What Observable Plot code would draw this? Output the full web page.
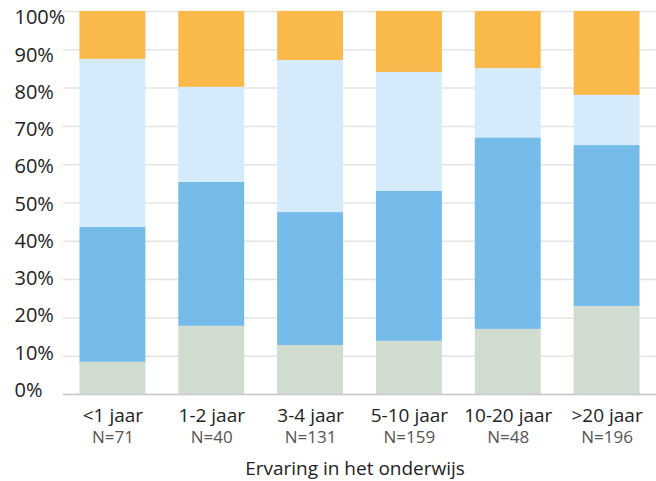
<!DOCTYPE html>
<html>
<head>
<meta charset="utf-8">
<script src="https://cdn.jsdelivr.net/npm/d3@7"></script>
<script src="https://cdn.jsdelivr.net/npm/@observablehq/plot@0.6"></script>
<style>
  html, body { margin: 0; padding: 0; background: #fff; }
  #chart { width: 656px; height: 481px; }
  svg { font-family: "Open Sans", sans-serif; }
</style>
</head>
<body>
<div id="chart"></div>
<script>
const categories = ["<1 jaar", "1-2 jaar", "3-4 jaar", "5-10 jaar", "10-20 jaar", ">20 jaar"];
const counts = ["N=71", "N=40", "N=131", "N=159", "N=48", "N=196"];
const seriesNames = ["Reeks 1", "Reeks 2", "Reeks 3", "Reeks 4"];
const seriesColors = ["#cfdccf", "#75bbea", "#d5ebfb", "#f9b94b"];
const serie1 = [8.4, 17.8, 12.8, 13.9, 17.0, 23.0];
const serie2 = [35.2, 37.6, 34.7, 39.1, 50.0, 42.0];
const serie3 = [43.9, 24.8, 39.7, 31.1, 18.1, 13.1];
const serie4 = [12.5, 19.8, 12.8, 15.9, 14.9, 21.9];
const yTicks = [0, 10, 20, 30, 40, 50, 60, 70, 80, 90, 100];
const xTitle = "Ervaring in het onderwijs";

const allSeries = [serie1, serie2, serie3, serie4];
const rows = [];
allSeries.forEach((vals, si) => {
  vals.forEach((v, ci) => rows.push({cat: categories[ci], series: seriesNames[si], value: v}));
});
const labelRows = categories.map((c, i) => ({cat: c, n: counts[i]}));

// tick labels sit slightly lower toward the top of the axis, as in the reference
const tickLabelMarks = yTicks.map(t => Plot.text([t], {
  y: d => d, text: d => d + "%", frameAnchor: "left", textAnchor: "start",
  dx: -49, dy: -4 + t * 0.105, fontSize: 20, fill: "#222"
}));

const chart = Plot.plot({
  width: 656,
  height: 481,
  marginLeft: 63,
  marginRight: 0,
  marginTop: 11,
  marginBottom: 87,
  style: {fontFamily: "'Open Sans', sans-serif", background: "#fff", overflow: "visible"},
  x: {domain: categories, paddingInner: 1/3, paddingOuter: 1/6, round: false, axis: null},
  y: {domain: [0, 100], axis: null, label: null},
  color: {domain: seriesNames, range: seriesColors},
  marks: [
    Plot.gridY(yTicks, {stroke: "#e4e4e4", strokeOpacity: 1, strokeWidth: 1.5}),
    Plot.barY(rows, {x: "cat", y: "value", fill: "series", order: seriesNames}),
    Plot.ruleY([0], {stroke: "#c9c9c9", strokeWidth: 1.5}),
    ...tickLabelMarks,
    Plot.text(labelRows, {x: "cat", text: "cat", frameAnchor: "bottom", lineAnchor: "bottom", dy: 27, fontSize: 19, fill: "#222"}),
    Plot.text(labelRows, {x: "cat", text: "n", frameAnchor: "bottom", lineAnchor: "bottom", dy: 48, fontSize: 17, fill: "#555"}),
    Plot.text([xTitle], {text: d => d, frameAnchor: "bottom", lineAnchor: "bottom", dy: 80, dx: -5, fontSize: 19, fill: "#222"})
  ]
});
document.getElementById("chart").appendChild(chart);
</script>
</body>
</html>
